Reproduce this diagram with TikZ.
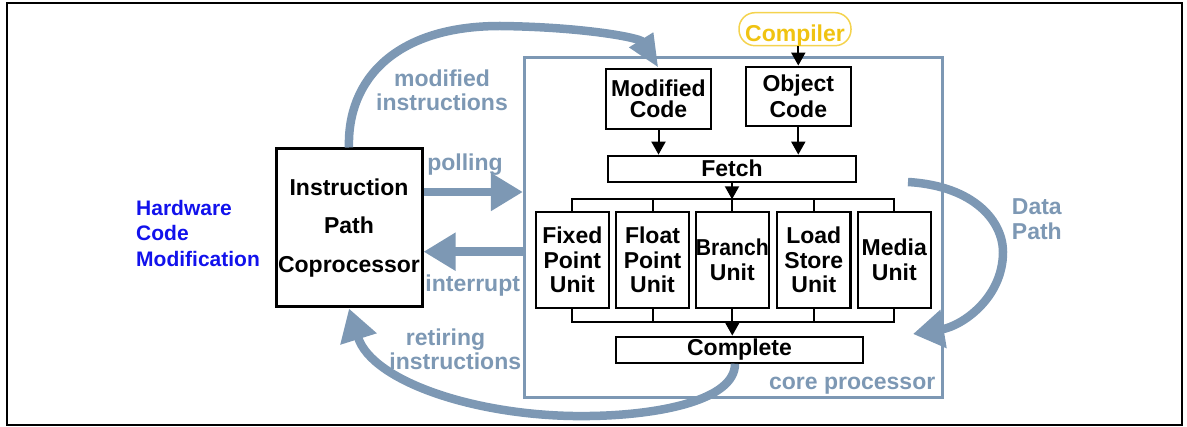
\documentclass[tikz,border=0pt]{standalone}
\usepackage{fontspec}
\usepackage{graphicx}
\setmainfont{Liberation Sans}
\usetikzlibrary{arrows.meta}

\definecolor{flowc}{HTML}{7D98B4}
\definecolor{hwblue}{HTML}{1212EC}
\definecolor{compy}{HTML}{F0C312}
\definecolor{compline}{HTML}{F4D34E}

\newcommand\txtfont[1]{\fontsize{23}{#1}\selectfont\bfseries}

\tikzset{
  blkbox/.style={draw, line width=2.2pt, inner sep=0pt, align=center},
  unitbox/.style={blkbox, minimum width=73.3pt, minimum height=96.6pt, font=\txtfont{24.5}},
  bus/.style={line width=2pt},
  blkarrow/.style={line width=2pt, -{Triangle[length=13pt,width=14pt]}},
  flow/.style={draw=flowc, line width=8.5pt},
  bighead/.style={-{Triangle[length=32pt,width=36pt]}},
  flowlabel/.style={text=flowc, inner sep=0pt, font=\txtfont{24.5}},
}

\begin{document}
\begin{tikzpicture}[x=1pt,y=-1pt]
\useasboundingbox (0,0) rectangle (1187,427);

% outer frame
\draw[line width=2pt] (7,3) rectangle (1182,425);

% core processor outline
\node[draw=flowc, line width=2.8pt, minimum width=418.4pt, minimum height=340pt, inner sep=0pt] (core) at (733.5,227.4) {};
\node[flowlabel, anchor=base east] (corelbl) at (935.5,390) {core processor};

% compiler
\node[draw=compline, line width=1.5pt, rounded corners=16pt, minimum width=112pt, minimum height=33pt,
      inner sep=0pt, text height=24.6pt, text depth=0pt, text=compy, font=\txtfont{24}] (cmp) at (795,29.2) {Compiler};

% code stores and fetch
\node[blkbox, minimum width=105pt, minimum height=60pt, font=\txtfont{21.5}] (mc) at (658.5,99) {Modified\\Code};
\node[blkbox, minimum width=105.3pt, minimum height=59.3pt, font=\txtfont{26.5}] (oc) at (798.3,96.3) {Object\\Code};
\node[blkbox, minimum width=248pt, minimum height=26pt, font=\txtfont{24}] (fe) at (732,168.7) {Fetch};

% execution units
\node[unitbox] (fx) at (572.3,260) {Fixed\\Point\\Unit};
\node[unitbox] (fl) at (652.5,260) {Float\\Point\\Unit};
\node[unitbox] (br) at (732.3,260) {\scalebox{0.92}[1]{Branch}\\Unit};
\node[unitbox] (ls) at (813.8,260) {Load\\Store\\Unit};
\node[unitbox] (md) at (894.3,260) {Media\\Unit};

\node[blkbox, minimum width=247pt, minimum height=26pt, font=\txtfont{24}] (cp) at (739.5,349.7) {Complete};

% instruction path coprocessor
\node[blkbox, line width=3pt, minimum width=146pt, minimum height=158pt, font=\txtfont{38.3}] (ipc) at (349,228) {Instruction\\Path\\Coprocessor};

% side caption
\node[anchor=north west, inner sep=0pt, align=left, text=hwblue, font=\fontsize{21}{25.5}\selectfont\bfseries] (hw) at (136,200) {Hardware\\Code\\Modification};

% black connectors
\coordinate (busT) at (0,199.3);
\coordinate (busB) at (0,322.3);
\draw[blkarrow] (oc.north |- cmp.south) -- (oc.north);
\draw[blkarrow] (mc.south) -- (mc.south |- fe.north);
\draw[blkarrow] (oc.south) -- (oc.south |- fe.north);
\draw[bus] (fx.north) -- (fx.north |- busT) -- (md.north |- busT) -- (md.north);
\foreach \u in {fl,br,ls} \draw[bus] (\u.north) -- (\u.north |- busT);
\draw[blkarrow] (fe.south) -- (fe.south |- busT);
\draw[bus] (fx.south) -- (fx.south |- busB) -- (md.south |- busB) -- (md.south);
\foreach \u in {fl,br,ls} \draw[bus] (\u.south) -- (\u.south |- busB);
\draw[blkarrow] (br.south |- busB) -- (br.south |- cp.north);

% polling / interrupt
\coordinate (pollY) at (0,192);
\coordinate (intY) at (0,251.7);
\draw[flow, bighead] (ipc.east |- pollY) -- (core.west |- pollY);
\draw[flow, bighead] (core.west |- intY) -- (ipc.east |- intY);
\node[flowlabel, anchor=base] (polllbl) at (465,171) {polling};
\node[flowlabel, anchor=base] (intlbl) at (472.7,291.5) {interrupt};

% modified instructions
\draw[flow, -{Triangle[length=33pt,width=26pt]}] (ipc.north) .. controls (347,80) and (395,26) .. (500,26)
      .. controls (585,27) and (640,38) .. (mc.north);
\node[flowlabel, align=center, anchor=north] (modlbl) at (442,69.5) {modified\\instructions};

% retiring instructions
\draw[flow, bighead] ([xshift=-4.5pt]cp.south) .. controls (735,400) and (660,415) .. (590,416)
      .. controls (480,418) and (372,382) .. (ipc.south);
\node[flowlabel, anchor=base] (retA) at (445.5,346) {retiring};
\node[flowlabel, anchor=base] (retB) at (455.3,370) {instructions};

% data path
\coordinate (dpS) at (908,182);
\coordinate (dpE) at (913,334);
\draw[flow, -{Triangle[length=31pt,width=37pt]}] (dpS) .. controls (975,186) and (1003,222) .. (1003,252)
      .. controls (1003,298) and (962,326) .. (dpE);
\node[flowlabel, align=left, anchor=north west] (dplbl) at (1011.7,198.5) {Data\\Path};

\end{tikzpicture}
\end{document}
